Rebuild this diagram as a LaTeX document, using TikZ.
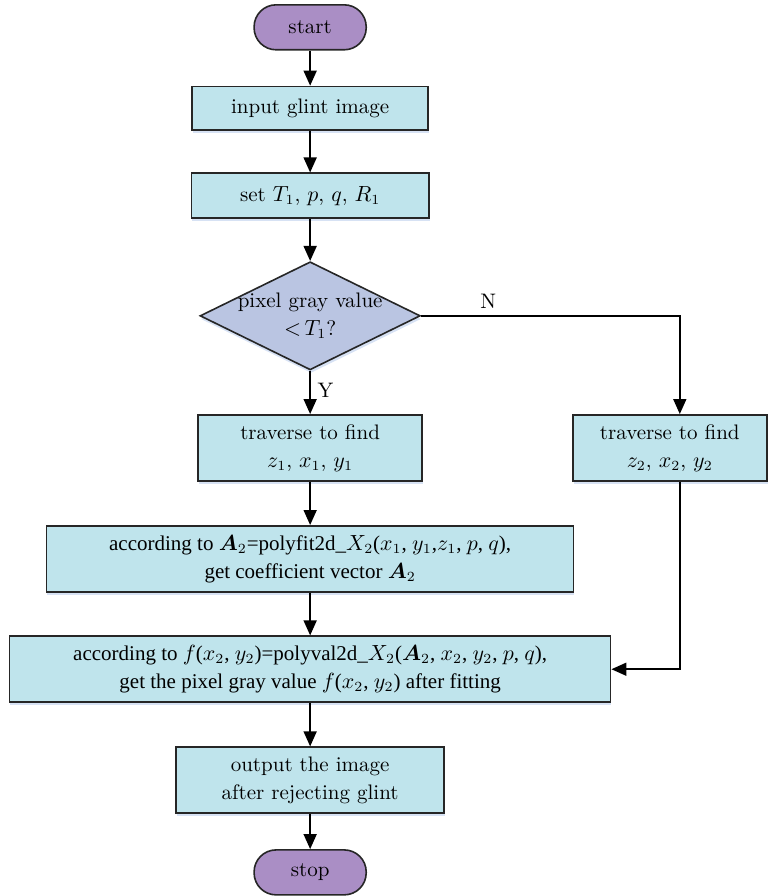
\documentclass[tikz,border=0pt]{standalone}
\usepackage{amsmath}
\usepackage{fontspec}
\usepackage{tikz}
\usetikzlibrary{arrows.meta,shapes.geometric,shadows}

\newfontfamily\narrowfont{Liberation Serif}

\definecolor{boxblue}{RGB}{191,228,236}
\definecolor{condblue}{RGB}{186,197,226}
\definecolor{termpurple}{RGB}{170,142,197}

\begin{document}
\begin{tikzpicture}[block/.style={draw=black!85, line width=0.8pt, rectangle, fill=boxblue, align=center,
                        inner sep=2pt, minimum height=1.16cm,
                        drop shadow={shadow xshift=0.4pt, shadow yshift=-1.6pt, fill=cyan!50!blue!35, opacity=0.45}}]
            \tikzset{terminal/.style = {draw=black!85, line width=0.8pt, rectangle, rounded corners=11pt,
                        fill=termpurple, minimum width=1.97cm, minimum height=0.79cm}}
            \tikzset{decision/.style = {draw=black!85, line width=0.8pt, diamond, fill=condblue, align=center,
                        inner sep=-12pt, minimum width=3.87cm, minimum height=1.90cm,
                        drop shadow={shadow xshift=0.4pt, shadow yshift=-1.6pt, fill=cyan!50!blue!35, opacity=0.45}}}
            \tikzset{edge/.style = {-{Triangle[width=6.5pt,length=7.5pt]}, line width=0.8pt}}
            \tikzset{every node/.style = {font=\fontsize{10.5}{14}\selectfont}}

            \useasboundingbox (0,0) rectangle (13.514,-15.745);

            \node[terminal] (start) at (5.45,-0.48) {start};
            \node[block, minimum width=4.15cm, minimum height=0.76cm] (input) at (5.45,-1.90) {input glint image};
            \node[block, minimum width=4.17cm, minimum height=0.79cm] (params) at (5.45,-3.44) {set $T_1$, $p$, $q$, $R_1$};
            \node[decision] (cond) at (5.45,-5.55) {pixel gray value\\$<$\,$T_1$?};

            \node[block, minimum width=3.94cm] (trav1) at (5.45,-7.87) {traverse to find\\$z_1$, $x_1$, $y_1$};
            \node[block, minimum width=3.41cm] (trav2) at (11.77,-7.87) {traverse to find\\$z_2$, $x_2$, $y_2$};

            \node[block, minimum width=9.26cm, font=\narrowfont\fontsize{10.5}{14}\selectfont] (fit) at (5.45,-9.82)
                {according to $\boldsymbol{A}_2$=polyfit2d\_$X_2$($x_1$, $y_1$,$z_1$, $p$, $q$),\\get coefficient vector $\boldsymbol{A}_2$};
            \node[block, minimum width=10.56cm, font=\narrowfont\fontsize{10.5}{14}\selectfont] (val) at (5.45,-11.76)
                {according to $f$($x_2$, $y_2$)=polyval2d\_$X_2$($\boldsymbol{A}_2$, $x_2$, $y_2$, $p$, $q$),\\get the pixel gray value $f$($x_2$, $y_2$) after fitting};
            \node[block, minimum width=4.71cm] (output) at (5.45,-13.71) {output the image\\after rejecting glint};
            \node[terminal] (stop) at (5.45,-15.33) {stop};

            \draw [edge] (start) to (input);
            \draw [edge] (input) to (params);
            \draw [edge] (params) to (cond);
            \draw [edge] (cond) -- node[right, pos=0.45] {Y} (trav1);
            \draw [edge] (cond.east) -| node[above, pos=0.13] {N} ([xshift=5pt]trav2.north);
            \draw [edge] (trav1) to (fit);
            \draw [edge] (fit) to (val);
            \draw [edge] ([xshift=5pt]trav2.south) |- (val.east);
            \draw [edge] (val) to (output);
            \draw [edge] (output) to (stop);

            \end{tikzpicture}
\end{document}
